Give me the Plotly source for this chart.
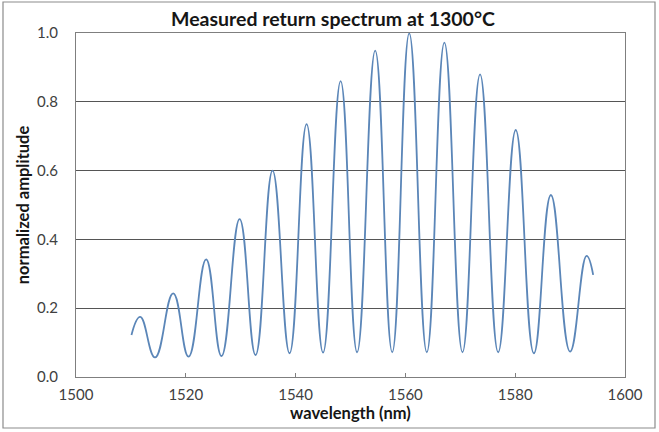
import plotly.graph_objects as go

# Fringe extrema of the measured return spectrum (wavelength in nm, normalized amplitude)
wavelength_nm = [
    1510.1, 1511.7, 1514.4, 1517.7, 1520.5, 1523.7, 1526.5, 1529.8, 1532.7,
    1535.8, 1538.9, 1542.0, 1545.0, 1548.2, 1551.2, 1554.5, 1557.6, 1560.7,
    1563.9, 1567.1, 1570.4, 1573.6, 1576.9, 1580.1, 1583.4, 1586.5, 1590.0,
    1593.0, 1594.2,
]
amplitude = [
    0.122, 0.175, 0.057, 0.243, 0.059, 0.342, 0.061, 0.459, 0.064,
    0.600, 0.069, 0.735, 0.071, 0.860, 0.072, 0.949, 0.072, 0.999,
    0.072, 0.972, 0.072, 0.880, 0.072, 0.718, 0.069, 0.529, 0.074,
    0.352, 0.297,
]

x_ticks = [1500, 1520, 1540, 1560, 1580, 1600]
y_ticks = [0.0, 0.2, 0.4, 0.6, 0.8, 1.0]

FONT = "Lato"
TEXT = "#404040"
DARK = "#161616"
GRID = "#555555"
FRAME = "#7f7f7f"

fig = go.Figure(
    go.Scatter(
        x=wavelength_nm,
        y=amplitude,
        mode="lines",
        line=dict(color="#5b86b8", width=1.8, shape="spline", smoothing=1.3),
        hoverinfo="x+y",
    )
)

fig.update_layout(
    width=659,
    height=432,
    margin=dict(l=76, r=34, t=33, b=55),
    paper_bgcolor="white",
    plot_bgcolor="white",
    showlegend=False,
    title=dict(
        text="<b>Measured return spectrum at 1300°C</b>",
        x=333 / 659,
        xanchor="center",
        xref="container",
        y=1 - 19 / 432,
        yanchor="middle",
        font=dict(family=FONT, size=19.5, color=DARK),
    ),
    font=dict(family=FONT, color=TEXT),
)

fig.update_xaxes(
    range=[1500, 1600],
    tickvals=x_ticks,
    ticktext=[str(v) for v in x_ticks],
    ticks="inside",
    ticklen=4,
    tickcolor=FRAME,
    tickfont=dict(family=FONT, size=15, color=TEXT),
    showgrid=False,
    zeroline=False,
    showline=True,
    linecolor=FRAME,
    linewidth=1,
    mirror=True,
    ticklabelstandoff=4,
    title=dict(
        text="<b>wavelength (nm)</b>",
        font=dict(family=FONT, size=16.5, color=DARK),
        standoff=2,
    ),
)

fig.update_yaxes(
    range=[0, 1.0],
    tickvals=y_ticks,
    ticktext=[f"{v:.1f}" for v in y_ticks],
    ticks="",
    tickfont=dict(family=FONT, size=15, color=TEXT),
    showgrid=True,
    gridcolor=GRID,
    gridwidth=1,
    zeroline=False,
    showline=True,
    linecolor=FRAME,
    linewidth=1,
    mirror=True,
    ticklabelstandoff=14,
    title=dict(
        text="<b>normalized amplitude</b>",
        font=dict(family=FONT, size=16.5, color=DARK),
        standoff=3,
    ),
)

# Outer frame around the whole chart area
fig.add_shape(
    type="rect",
    xref="paper",
    yref="paper",
    x0=(3 - 76) / 549,
    x1=(655 - 76) / 549,
    y0=(377 - 428) / 344,
    y1=(377 - 2) / 344,
    line=dict(color="#8c8c8c", width=1.2),
    fillcolor="rgba(0,0,0,0)",
    layer="below",
)

fig.write_html("out.html")
